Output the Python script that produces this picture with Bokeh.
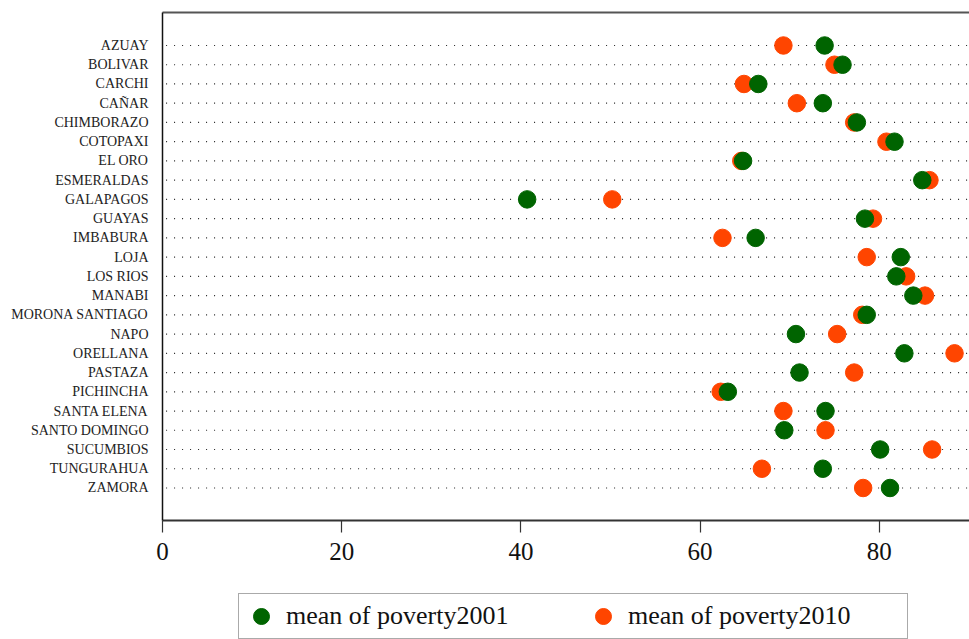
from bokeh.plotting import figure
from bokeh.layouts import column
from bokeh.models import (Range1d, FixedTicker, LinearAxis, Legend, LegendItem,
                          ColumnDataSource)
from bokeh.embed import file_html
from bokeh.resources import INLINE

# Mean poverty rate by province, 2001 vs 2010
provinces = ["AZUAY", "BOLIVAR", "CARCHI", "CAÑAR", "CHIMBORAZO", "COTOPAXI",
             "EL ORO", "ESMERALDAS", "GALAPAGOS", "GUAYAS", "IMBABURA", "LOJA",
             "LOS RIOS", "MANABI", "MORONA SANTIAGO", "NAPO", "ORELLANA",
             "PASTAZA", "PICHINCHA", "SANTA ELENA", "SANTO DOMINGO",
             "SUCUMBIOS", "TUNGURAHUA", "ZAMORA"]
poverty2001 = [73.9, 75.9, 66.5, 73.7, 77.5, 81.7, 64.8, 84.8, 40.7, 78.4,
               66.2, 82.4, 81.9, 83.8, 78.6, 70.7, 82.8, 71.1, 63.1, 74.0,
               69.4, 80.1, 73.7, 81.2]
poverty2010 = [69.3, 75.0, 64.9, 70.8, 77.2, 80.8, 64.6, 85.6, 50.2, 79.3,
               62.5, 78.6, 83.0, 85.1, 78.1, 75.3, 88.4, 77.2, 62.3, 69.3,
               74.0, 85.9, 66.9, 78.2]
series_labels = ["mean of poverty2001", "mean of poverty2010"]
x_ticks = [0, 20, 40, 60, 80]

GREEN = "#006400"
ORANGE = "#FF4500"
SERIF = "Liberation Serif"

rows = list(range(len(provinces)))
src = ColumnDataSource(dict(row=rows, p01=poverty2001, p10=poverty2010,
                            x0=[0.4] * len(rows), x1=[90.1] * len(rows)))

p = figure(width=969, height=590, output_backend="svg", toolbar_location=None,
           x_range=Range1d(0, 90.07), y_range=Range1d(24.69, -1.715),
           min_border_left=162, min_border_right=0, min_border_top=12,
           min_border_bottom=70)
p.outline_line_color = None
p.xgrid.grid_line_color = None
p.ygrid.grid_line_color = None
p.background_fill_color = "white"
p.border_fill_color = "white"

# dotted guide line for each province
p.segment(x0="x0", x1="x1", y0="row", y1="row", source=src,
          line_color="#222222", line_width=1.2, line_dash="1 7")

p.scatter(x="p10", y="row", source=src, size=17.5,
          fill_color=ORANGE, line_color=ORANGE)
p.scatter(x="p01", y="row", source=src, size=17.5,
          fill_color=GREEN, line_color=GREEN)

# x axis
xa = p.xaxis[0]
xa.ticker = FixedTicker(ticks=x_ticks)
xa.axis_line_color = "#333333"
xa.axis_line_width = 2
xa.major_tick_line_color = "#333333"
xa.major_tick_line_width = 1.2
xa.major_tick_out = 12
xa.major_tick_in = 0
xa.minor_tick_line_color = None
xa.major_label_standoff = 10
xa.major_label_text_font = SERIF
xa.major_label_text_font_size = "25px"
xa.major_label_text_color = "#111111"

# y axis with province names
ya = p.yaxis[0]
ya.ticker = FixedTicker(ticks=rows)
ya.major_label_overrides = {i: n for i, n in enumerate(provinces)}
ya.axis_line_color = "#111111"
ya.axis_line_width = 1.5
ya.major_tick_line_color = None
ya.minor_tick_line_color = None
ya.major_tick_out = 0
ya.major_tick_in = 0
ya.major_label_standoff = 14
ya.major_label_text_font = SERIF
ya.major_label_text_font_size = "14px"
ya.major_label_text_color = "#222222"

# top frame line
top = LinearAxis(ticker=FixedTicker(ticks=[]), axis_line_color="#555555",
                 axis_line_width=2, major_tick_line_color=None,
                 minor_tick_line_color=None, major_label_text_font_size="1px")
p.add_layout(top, "above")

# legend strip underneath the chart (its glyphs sit outside the strip's ranges,
# only their legend swatches are shown)
leg = figure(width=969, height=49, output_backend="svg", toolbar_location=None,
             x_range=Range1d(0, 1), y_range=Range1d(0, 1),
             min_border=0, x_axis_location=None, y_axis_location=None)
leg.outline_line_color = None
leg.xgrid.grid_line_color = None
leg.ygrid.grid_line_color = None
g01 = leg.scatter(x="p01", y="row", source=src, fill_color=GREEN, line_color=GREEN)
g10 = leg.scatter(x="p10", y="row", source=src, fill_color=ORANGE, line_color=ORANGE)

legend = Legend(items=[LegendItem(label=series_labels[0], renderers=[g01]),
                       LegendItem(label=series_labels[1], renderers=[g10])],
                orientation="horizontal", location=(76, 0),
                glyph_width=40, glyph_height=40, label_standoff=5,
                label_width=277, spacing=20, padding=2, margin=0,
                label_text_font=SERIF, label_text_font_size="26px",
                label_text_color="#111111",
                border_line_color="#555555", border_line_width=1.5,
                background_fill_color="white", background_fill_alpha=1)
leg.add_layout(legend, "center")

layout = column(p, leg, spacing=0)
open("out.html", "w").write(file_html(layout, INLINE))
